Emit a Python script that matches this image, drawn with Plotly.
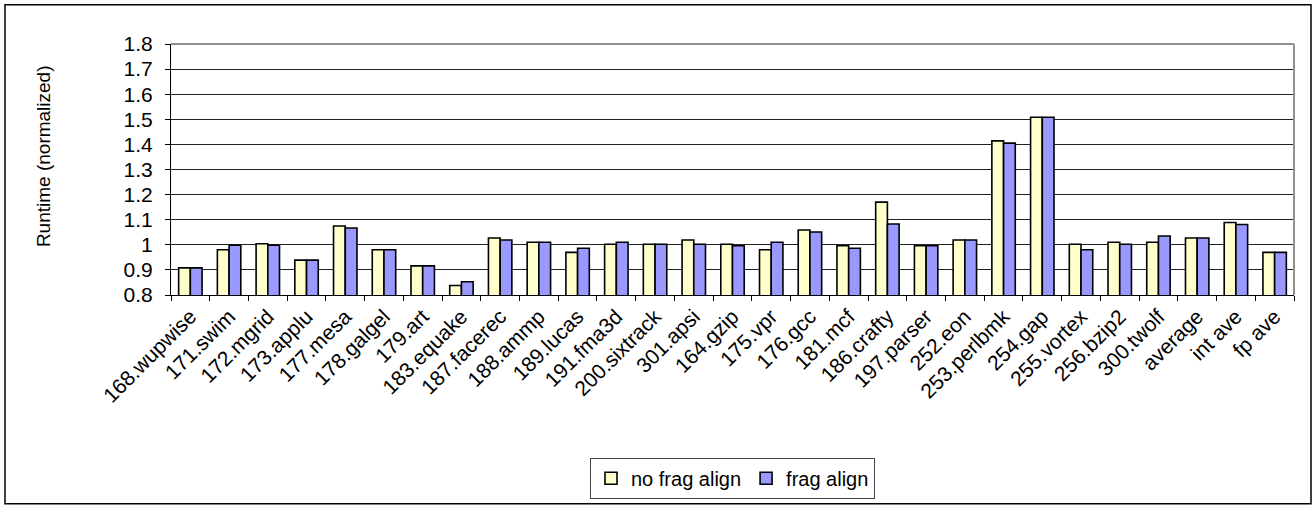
import plotly.graph_objects as go

benchmarks = [
    "168.wupwise", "171.swim", "172.mgrid", "173.applu", "177.mesa",
    "178.galgel", "179.art", "183.equake", "187.facerec", "188.ammp",
    "189.lucas", "191.fma3d", "200.sixtrack", "301.apsi", "164.gzip",
    "175.vpr", "176.gcc", "181.mcf", "186.crafty", "197.parser",
    "252.eon", "253.perlbmk", "254.gap", "255.vortex", "256.bzip2",
    "300.twolf", "average", "int ave", "fp ave",
]

no_frag_align = [
    0.908, 0.980, 1.004, 0.939, 1.075,
    0.980, 0.916, 0.838, 1.027, 1.010,
    0.970, 1.002, 1.002, 1.019, 1.002,
    0.980, 1.059, 0.996, 1.170, 0.996,
    1.019, 1.414, 1.508, 1.002, 1.010,
    1.010, 1.027, 1.089, 0.970,
]

frag_align = [
    0.908, 0.998, 0.998, 0.939, 1.067,
    0.980, 0.916, 0.853, 1.019, 1.010,
    0.986, 1.010, 1.002, 1.002, 0.996,
    1.010, 1.051, 0.986, 1.083, 0.996,
    1.019, 1.405, 1.508, 0.980, 1.002,
    1.035, 1.027, 1.081, 0.970,
]

y_ticks = [0.8, 0.9, 1.0, 1.1, 1.2, 1.3, 1.4, 1.5, 1.6, 1.7, 1.8]
y_tick_text = ["0.8", "0.9", "1", "1.1", "1.2", "1.3", "1.4", "1.5", "1.6", "1.7", "1.8"]

FONT = "Arial, Liberation Sans, sans-serif"

fig = go.Figure()
fig.add_trace(go.Bar(
    name="no frag align", x=benchmarks, y=no_frag_align,
    marker=dict(color="#FFFFCC", line=dict(color="black", width=1.6)),
))
fig.add_trace(go.Bar(
    name="frag align", x=benchmarks, y=frag_align,
    marker=dict(color="#9999FF", line=dict(color="black", width=1.6)),
))

L, R, T, B = 171, 1294, 44, 297
W, H = 1312, 510
pw, ph = R - L, B - T


def px_x(x):
    return (x - L) / pw


def px_y(y):
    return (B - y) / ph


fig.update_layout(
    width=W, height=H,
    margin=dict(l=L, r=W - R, t=T, b=H - B, pad=0),
    paper_bgcolor="white", plot_bgcolor="white",
    barmode="group", bargap=0.395, bargroupgap=0,
    font=dict(family=FONT, size=19, color="black"),
    showlegend=True,
    legend=dict(
        orientation="h", x=0.5, xanchor="center", y=px_y(461), yanchor="top",
        bordercolor="#444444", borderwidth=1, bgcolor="white",
        font=dict(size=20), itemwidth=30, tracegroupgap=0,
    ),
    xaxis=dict(
        type="category", tickangle=-45, showgrid=False,
        showline=True, linecolor="black", linewidth=1,
        ticks="outside", tickson="boundaries", ticklen=5, tickcolor="black",
        tickfont=dict(size=21),
    ),
    yaxis=dict(
        range=[0.8, 1.8], tickvals=y_ticks, ticktext=y_tick_text,
        showgrid=True, gridcolor="#222222", gridwidth=1,
        showline=True, linecolor="black", linewidth=1,
        ticks="outside", ticklen=5, tickcolor="black",
        tickfont=dict(size=21), ticklabelstandoff=8, zeroline=False,
    ),
    annotations=[dict(
        text="Runtime (normalized)", textangle=-90,
        xref="paper", yref="paper", x=px_x(43), y=px_y(157),
        xanchor="center", yanchor="middle",
        showarrow=False, font=dict(size=19),
    )],
    shapes=[
        # plot-area frame (top and right edges)
        dict(type="line", xref="paper", yref="paper", x0=0, x1=1, y0=1, y1=1,
             line=dict(color="#909090", width=2), layer="above"),
        dict(type="line", xref="paper", yref="paper", x0=1, x1=1, y0=0, y1=1,
             line=dict(color="#909090", width=2), layer="above"),
        # chart border
        dict(type="rect", xref="paper", yref="paper",
             x0=px_x(5), x1=px_x(1311), y0=px_y(507.5), y1=px_y(4.5),
             line=dict(color="black", width=1.5), layer="above"),
    ],
)

fig.write_html("out.html")
